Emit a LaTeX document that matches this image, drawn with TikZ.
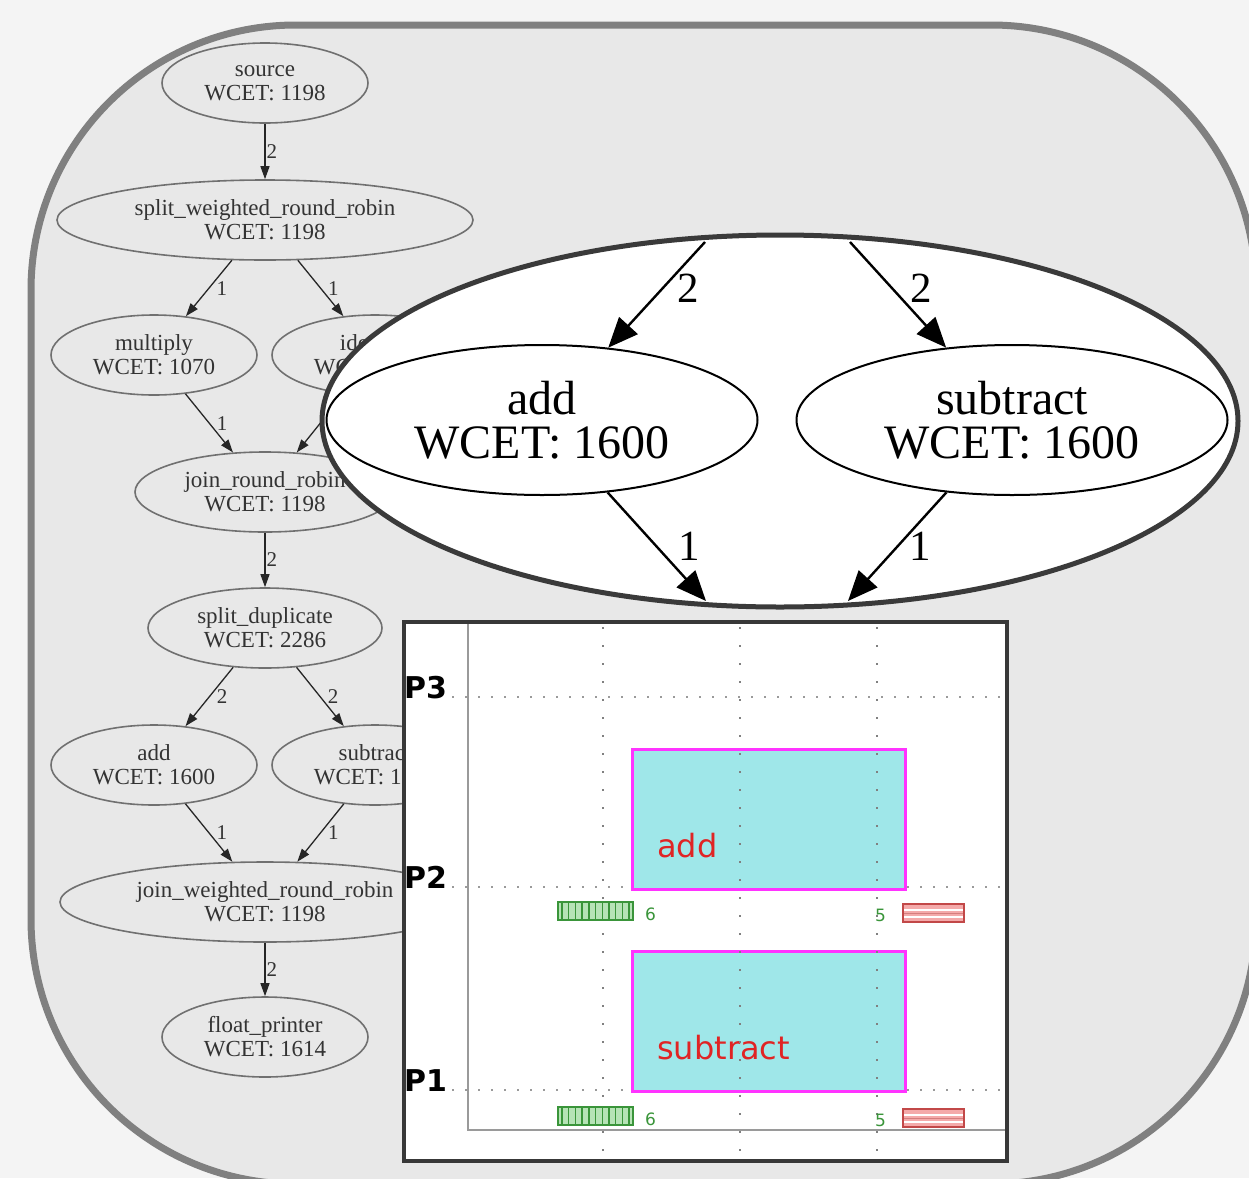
\documentclass[tikz,border=0pt]{standalone}
\usepackage{fontspec}
\setmainfont{Liberation Serif}
\newfontfamily\chartfont{DejaVu Sans}
\usepackage{tikz}
\usetikzlibrary{shapes.geometric}
\usetikzlibrary{arrows.meta}
\usetikzlibrary{positioning}

\definecolor{pagebg}{HTML}{F4F4F4}
\definecolor{ringgray}{HTML}{808080}
\definecolor{panelbg}{HTML}{E8E8E8}
\definecolor{gvline}{HTML}{707070}
\definecolor{gvtext}{HTML}{333333}
\definecolor{gvarrow}{HTML}{262626}
\definecolor{zoomring}{HTML}{3A3A3A}
\definecolor{chartframe}{HTML}{383838}
\definecolor{axisgray}{HTML}{9A9A9A}
\definecolor{taskfill}{HTML}{9FE7E9}
\definecolor{taskedge}{HTML}{FF33FF}
\definecolor{tasktext}{HTML}{E02424}
\definecolor{commgreen}{HTML}{3A953A}
\definecolor{commgreenbg}{HTML}{B6E3B6}
\definecolor{commred}{HTML}{C24848}
\definecolor{commredbg}{HTML}{F4AAAA}

\tikzset{
  gvnode/.style={ellipse, draw=gvline, line width=1.6pt, inner sep=0pt,
    minimum width=206pt, minimum height=80pt, align=center, text=gvtext,
    font=\fontsize{23}{24}\selectfont},
  gvedge/.style={draw=gvarrow, line width=1.3pt, -{Triangle[length=13pt,width=9pt]}},
  gvlbl/.style={right, inner sep=0pt, text=gvtext, font=\fontsize{21}{21}\selectfont},
  bignode/.style={ellipse, draw=black, line width=2pt, fill=white, inner sep=0pt,
    minimum width=431pt, minimum height=150pt, align=center,
    font=\fontsize{48}{44}\selectfont},
  bigedge/.style={draw=black, line width=2.4pt, -{Triangle[length=30pt,width=25pt]}},
  biglbl/.style={inner sep=0pt, font=\fontsize{43}{43}\selectfont},
  task/.style={draw=taskedge, fill=taskfill, line width=3pt, inner sep=0pt,
    minimum width=273pt, minimum height=140pt, anchor=north west},
  tasklbl/.style={anchor=base west, inner sep=0pt, text=tasktext,
    font=\chartfont\fontsize{32}{32}\selectfont},
  proclbl/.style={anchor=base west, inner sep=0pt,
    font=\chartfont\bfseries\fontsize{30}{30}\selectfont},
  commlbl/.style={anchor=base west, inner sep=0pt, text=commgreen,
    font=\chartfont\fontsize{17}{17}\selectfont},
  hgrid/.style={draw=axisgray, line width=2pt, dash pattern=on 2pt off 11pt},
  vgrid/.style={draw=gray, line width=2.5pt, dash pattern=on 2pt off 16pt},
}

\begin{document}
\begin{tikzpicture}[x=1pt,y=-1pt]

        \useasboundingbox (0,0) rectangle (1249,1178);
        \clip (0,0) rectangle (1249,1178);
        \fill[pagebg] (0,0) rectangle (1249,1178);

        % rounded panel
        \draw[line width=7pt, draw=ringgray, fill=panelbg, rounded corners=265pt] (31,25) rectangle (1256,1184);

        % whole stream graph
        \node[gvnode] (src) at (265,83) {source\\WCET: 1198};
        \node[gvnode, minimum width=416pt] (swrr) at (265,220) {split\_weighted\_round\_robin\\WCET: 1198};
        \node[gvnode] (mult) at (154,355) {multiply\\WCET: 1070};
        \node[gvnode] (ident) at (375,355) {identity\\WCET: 1070};
        \node[gvnode, minimum width=260pt] (jrr) at (265,492) {join\_round\_robin\\WCET: 1198};
        \node[gvnode, minimum width=234pt] (sdup) at (265,628) {split\_duplicate\\WCET: 2286};
        \node[gvnode] (addl) at (154,765) {add\\WCET: 1600};
        \node[gvnode] (subl) at (375,765) {subtract\\WCET: 1600};
        \node[gvnode, minimum width=410pt] (jwrr) at (265,902) {join\_weighted\_round\_robin\\WCET: 1198};
        \node[gvnode] (fprint) at (265,1037) {float\_printer\\WCET: 1614};

        \draw[gvedge] (src) -- node[gvlbl, right=1pt] {2} (swrr);
        \draw[gvedge] (swrr) -- node[gvlbl, right=7pt] {1} (mult);
        \draw[gvedge] (swrr) -- node[gvlbl, right=7pt] {1} (ident);
        \draw[gvedge] (mult) -- node[gvlbl, right=7pt] {1} (jrr);
        \draw[gvedge] (ident) -- node[gvlbl, right=7pt] {1} (jrr);
        \draw[gvedge] (jrr) -- node[gvlbl, right=1pt] {2} (sdup);
        \draw[gvedge] (sdup) -- node[gvlbl, right=7pt] {2} (addl);
        \draw[gvedge] (sdup) -- node[gvlbl, right=7pt] {2} (subl);
        \draw[gvedge] (addl) -- node[gvlbl, right=7pt] {1} (jwrr);
        \draw[gvedge] (subl) -- node[gvlbl, right=7pt] {1} (jwrr);
        \draw[gvedge] (jwrr) -- node[gvlbl, right=1pt] {2} (fprint);

        % zoomed part
        \node[ellipse, draw=zoomring, line width=5pt, fill=white, inner sep=0pt,
              minimum width=916pt, minimum height=372pt] (zoomview) at (780,421) {};

        \node[bignode] (zadd) at (542,420) {add\\WCET: 1600};
        \node[bignode] (zsub) at (1012,420) {subtract\\WCET: 1600};

        \coordinate (zinl) at (705,242);
        \coordinate (zinr) at (850,242);
        \coordinate (zoutl) at (706,601);
        \coordinate (zoutr) at (848,601);

        \draw[bigedge] (zinl) -- node[biglbl, right=20pt, yshift=7pt] {2} (zadd);
        \draw[bigedge] (zinr) -- node[biglbl, right=11pt, yshift=7pt] {2} (zsub);
        \draw[bigedge] (zadd) -- node[biglbl, right=20pt] {1} (zoutl);
        \draw[bigedge] (zsub) -- node[biglbl, right=11pt] {1} (zoutr);

        % schedule
        \draw[line width=4pt, draw=chartframe, fill=white] (404,622) rectangle (1007,1161);

        \foreach \y in {697,887,1090}
            \draw[hgrid] (452,\y) -- (1003,\y);
        \draw[axisgray, line width=2.5pt] (468,624) -- (468,1130) -- (1005,1130);

        \node[task] (tadd) at (631,748) {};
        \node[task] (tsub) at (631,950) {};
        \node[tasklbl] (ladd) at (657,857) {add};
        \node[tasklbl] (lsub) at (657,1059) {subtract};

        \foreach \x in {603,740,877}
            \draw[vgrid] (\x,627) -- (\x,1160);

        \node[proclbl] (pthree) at (404,698) {P3};
        \node[proclbl] (ptwo) at (404,888) {P2};
        \node[proclbl] (pone) at (404,1091) {P1};

        % communication bars
        \foreach \y/\n in {902/a,1107/b} {
            \draw[commgreen, fill=commgreenbg, line width=1.5pt] (558,\y) rectangle (633,\y+18);
            \foreach \s in {0,...,10}
                \draw[commgreen, line width=1.4pt] (562+\s*6.7,\y) -- (562+\s*6.7,\y+18);
            \draw[commred, fill=commredbg, line width=1.5pt] (903,\y+2) rectangle (964,\y+20);
            \draw[white, line width=1.6pt] (904,\y+8) -- (963,\y+8);
            \draw[commred!70, line width=1pt] (904,\y+11) -- (963,\y+11);
            \draw[white, line width=1.6pt] (904,\y+15) -- (963,\y+15);
            \node[commlbl] (six\n) at (645,\y+18) {6};
            \node[commlbl] (five\n) at (875,\y+19) {5};
        }

\end{tikzpicture}
\end{document}
